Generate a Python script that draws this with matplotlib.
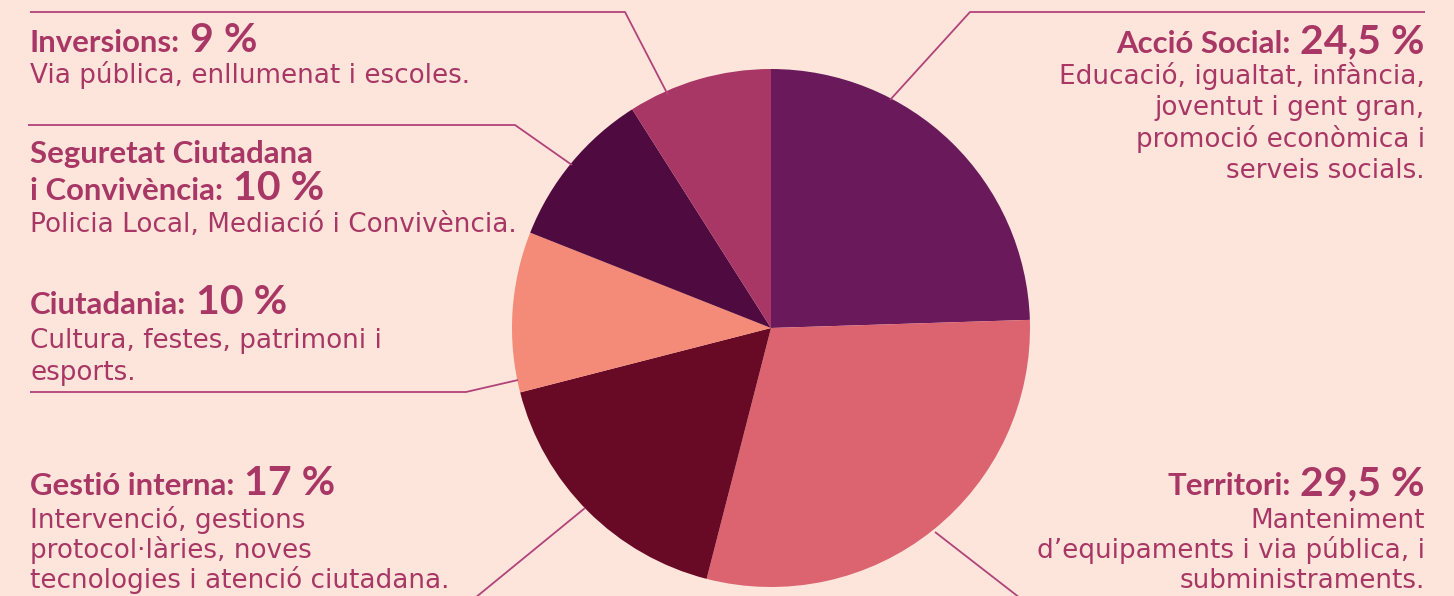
import matplotlib
matplotlib.use("Agg")
import matplotlib.pyplot as plt

# dades del pressupost
categories = ["Acció Social", "Territori", "Gestió interna", "Ciutadania",
              "Seguretat Ciutadana i Convivència", "Inversions"]
values = [24.5, 29.5, 17, 10, 10, 9]
pct_labels = ["24,5 %", "29,5 %", "17 %", "10 %", "10 %", "9 %"]
colors = ["#6a1a5a", "#dc6470", "#680a25", "#f48a78", "#4f0a3f", "#a83766"]

descriptions = {
    "Acció Social": ["Educació, igualtat, infància,", "joventut i gent gran,",
                     "promoció econòmica i", "serveis socials."],
    "Territori": ["Manteniment", "d\u2019equipaments i via pública, i",
                  "subministraments."],
    "Gestió interna": ["Intervenció, gestions", "protocol·làries, noves",
                       "tecnologies i atenció ciutadana."],
    "Ciutadania": ["Cultura, festes, patrimoni i", "esports."],
    "Seguretat Ciutadana i Convivència": ["Policia Local, Mediació i Convivència."],
    "Inversions": ["Via pública, enllumenat i escoles."],
}

W, H = 1454, 596
bg = "#fde5dc"
txt_c = "#a83765"
line_c = "#b2437a"

fig = plt.figure(figsize=(W / 100, H / 100), dpi=100, facecolor=bg)
ax = fig.add_axes([0, 0, 1, 1])
ax.set_facecolor(bg)

ax.pie(values, colors=colors, startangle=90, counterclock=False,
       center=(771, H - 328), radius=259, wedgeprops=dict(linewidth=0))
ax.set_xlim(0, W)
ax.set_ylim(0, H)
ax.set_aspect("equal")
ax.axis("off")

fig.canvas.draw()
rend = fig.canvas.get_renderer()

lab_kw = dict(family="Lato", weight="bold", fontsize=22.4, color=txt_c, va="baseline")
pct_kw = dict(family="Lato", weight="bold", fontsize=29.5, color=txt_c, va="baseline")
body_kw = dict(family="DejaVu Sans", fontsize=18.9, color=txt_c, va="baseline")


def heading(x, py, label, pct, align):
    y = H - py
    gap = 10
    if align == "left":
        t = ax.text(x, y, label, ha="left", **lab_kw)
        bb = t.get_window_extent(rend)
        ax.text(bb.x1 + gap, y, pct, ha="left", **pct_kw)
    else:
        t = ax.text(x, y, pct, ha="right", **pct_kw)
        bb = t.get_window_extent(rend)
        ax.text(bb.x0 - gap, y, label, ha="right", **lab_kw)


def body(x, py0, lines, align, step=30.5):
    for i, s in enumerate(lines):
        ax.text(x, H - (py0 + i * step), s, ha=align, **body_kw)


def leader(pts):
    ax.plot([p[0] for p in pts], [H - p[1] for p in pts], color=line_c, lw=1.3,
            solid_capstyle="butt")


xl, xr = 30, 1425

# Inversions
heading(xl, 52, "Inversions:", pct_labels[5], "left")
body(xl, 83, descriptions["Inversions"], "left")
leader([(30, 12), (625, 12), (668, 95)])

# Seguretat
ax.text(xl, H - 163, "Seguretat Ciutadana", ha="left", **lab_kw)
heading(xl, 200, "i Convivència:", pct_labels[4], "left")
body(xl, 232, descriptions["Seguretat Ciutadana i Convivència"], "left")
leader([(28, 125), (515, 125), (572, 165)])

# Ciutadania
heading(xl, 314, "Ciutadania:", pct_labels[3], "left")
body(xl, 348, descriptions["Ciutadania"], "left", step=32)
leader([(30, 392), (466, 392), (518, 380)])

# Gestió interna
heading(xl, 495, "Gestió interna:", pct_labels[2], "left")
body(xl, 528, descriptions["Gestió interna"], "left", step=30)
leader([(585, 508), (475, 598)])

# Acció Social
heading(xr, 53, "Acció Social:", pct_labels[0], "right")
body(xr, 84, descriptions["Acció Social"], "right", step=31.3)
leader([(1425, 12), (970, 12), (890, 100)])

# Territori
heading(xr, 495, "Territori:", pct_labels[1], "right")
body(xr, 528, descriptions["Territori"], "right", step=30)
leader([(935, 532), (1020, 598)])

fig.savefig("out.png", dpi=100, facecolor=bg)
